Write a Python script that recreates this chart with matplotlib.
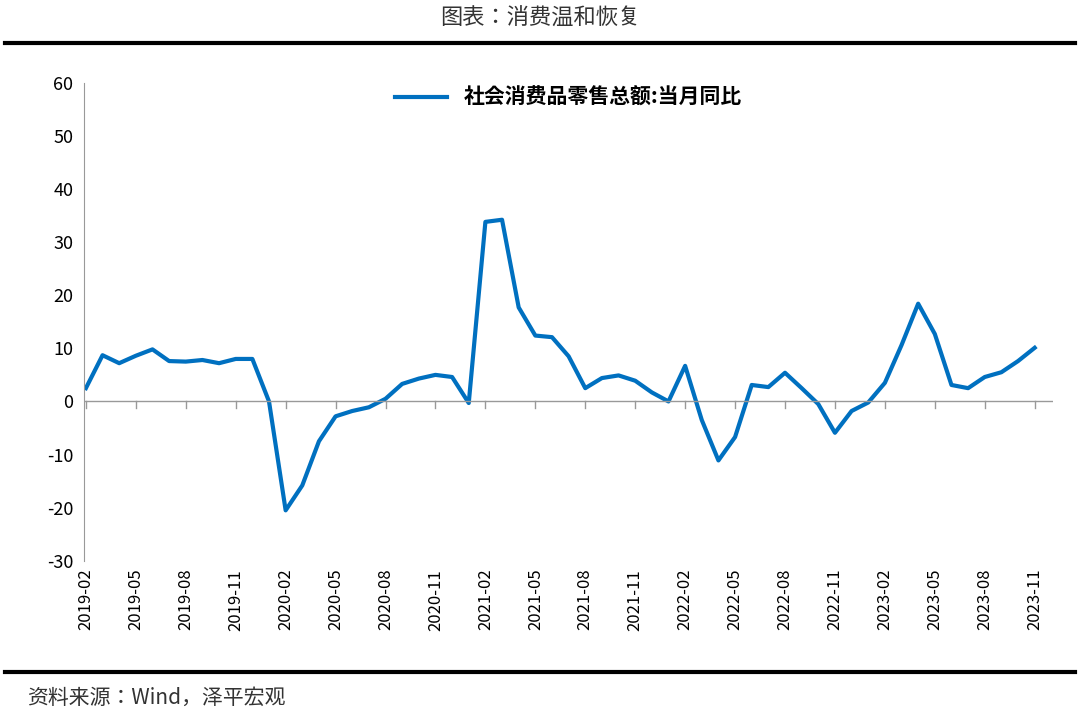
import matplotlib
matplotlib.use("Agg")
import matplotlib.pyplot as plt
from matplotlib.lines import Line2D
from matplotlib import font_manager as fm

cjk = [f.name for f in fm.fontManager.ttflist if 'CJK' in f.name]
fam = 'Noto Sans CJK SC' if 'Noto Sans CJK SC' in cjk else (cjk[0] if cjk else 'DejaVu Sans')
plt.rcParams['font.family'] = 'sans-serif'
plt.rcParams['font.sans-serif'] = [fam, 'DejaVu Sans']
plt.rcParams['axes.unicode_minus'] = False

months = []
y, m = 2019, 2
for _ in range(58):
    months.append(f"{y}-{m:02d}")
    m += 1
    if m > 12:
        m = 1; y += 1

values = [2.5, 8.7, 7.2, 8.6, 9.8, 7.6, 7.5, 7.8, 7.2, 8.0, 8.0,
          0.0, -20.5, -15.8, -7.5, -2.8, -1.8, -1.1, 0.5, 3.3, 4.3, 5.0, 4.6,
          -0.3, 33.8, 34.2, 17.7, 12.4, 12.1, 8.5, 2.5, 4.4, 4.9, 3.9, 1.7,
          0.0, 6.7, -3.5, -11.1, -6.7, 3.1, 2.7, 5.4, 2.5, -0.5, -5.9, -1.8,
          -0.2, 3.5, 10.6, 18.4, 12.7, 3.1, 2.5, 4.6, 5.5, 7.6, 10.1]
series_name = "社会消费品零售总额:当月同比"
yticks = [-30, -20, -10, 0, 10, 20, 30, 40, 50, 60]

fig = plt.figure(figsize=(10.8, 7.19), dpi=100)
fig.text(0.5, 0.975, "图表：消费温和恢复", ha='center', va='center', fontsize=16, color='#333333')
fig.add_artist(Line2D([0.005, 0.995], [0.94, 0.94], color='black', lw=3))
fig.add_artist(Line2D([0.005, 0.995], [0.065, 0.065], color='black', lw=3))
fig.text(0.025, 0.03, "资料来源：Wind，泽平宏观", ha='left', va='center', fontsize=15, style='italic', color='#333333')

ax = fig.add_axes([0.078, 0.22, 0.897, 0.665])
x = list(range(len(values)))
ax.plot(x, values, color='#0070C0', lw=3, solid_joinstyle='round', label=series_name)
ax.set_xlim(-0.1, len(values) - 0.5 + 0.6)
ax.set_ylim(-30, 60)
ax.set_yticks(yticks)
ax.tick_params(axis='y', labelsize=13, length=0, pad=8)
for s in ['top', 'right', 'bottom']:
    ax.spines[s].set_visible(False)
ax.spines['left'].set_color('#999999')
ax.axhline(0, color='#999999', lw=1)
ax.set_xticks([])
for xi in x[::3]:
    ax.plot([xi, xi], [0, -1.2], color='#999999', lw=1, clip_on=False)
    ax.text(xi, -31.5, months[xi], rotation=90, ha='center', va='top', fontsize=12)
leg = ax.legend(loc='upper center', bbox_to_anchor=(0.5, 1.03), frameon=False,
                prop={'family': fam, 'size': 15, 'weight': 'bold'}, handlelength=2.5)
fig.savefig("out.png", dpi=100)
